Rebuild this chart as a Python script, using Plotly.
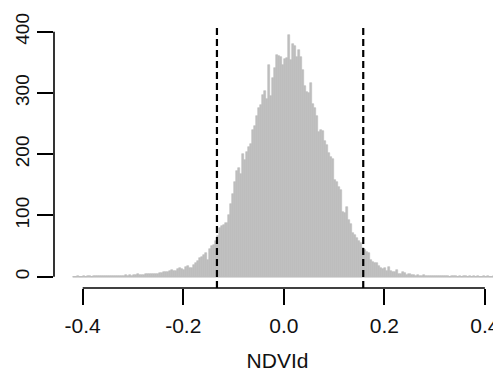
import plotly.graph_objects as go

# Histogram of NDVId: bins of width 0.004 starting at -0.42
bin_start = -0.42
bin_width = 0.004
counts = [
    0, 0, 1, 0, 0, 1, 0, 1, 1, 0, 1, 1, 1, 1, 1, 2, 1, 1, 2, 1, 2, 2, 2, 2,
    2, 2, 3, 2, 3, 2, 3, 3, 4, 3,
    3, 3, 4, 5, 4, 4, 4, 5, 5, 6, 6, 7, 7, 8, 9, 11, 10, 9, 13, 14, 12, 11,
    16, 17, 15, 14, 19, 22, 26, 30, 33, 36, 38, 28, 45, 50, 52, 58, 66, 80,
    83, 85, 88, 100, 118, 135, 155, 172, 177, 168, 200, 190, 203, 212, 216,
    240, 246, 262, 275, 280, 296, 303, 290, 346, 295, 325, 340, 362, 360,
    359, 345, 355, 357, 395, 354, 380, 376, 358, 370, 359, 338, 312, 302,
    300, 316, 282, 275, 262, 236, 240, 238, 222, 215, 202, 196, 192, 158,
    155, 147, 141, 106, 104, 114, 92, 86, 72, 68, 63, 58, 55, 47, 44, 40,
    38, 28, 24, 23, 22, 17, 15, 13, 14, 10, 16, 9, 8, 8, 11, 5, 4, 7, 6, 3,
    4, 3, 3, 2, 3, 2, 2, 3, 2, 1, 2, 2, 1, 2, 1, 1, 1, 2, 1, 1, 0, 1, 1, 1,
    0, 1, 0, 1, 1, 0, 1, 0, 1, 0, 1, 0, 0, 1, 0, 1, 0, 0, 1,
]
bin_centers = [bin_start + bin_width * (i + 0.5) for i in range(len(counts))]

x_ticks = [-0.4, -0.2, 0.0, 0.2, 0.4]
x_tick_labels = ["-0.4", "-0.2", "0.0", "0.2", "0.4"]
y_ticks = [0, 100, 200, 300, 400]
y_tick_labels = ["0", "100", "200", "300", "400"]
thresholds = [-0.133, 0.158]
x_title = "NDVId"

fig = go.Figure()
fig.add_trace(go.Bar(
    x=bin_centers, y=counts, width=bin_width,
    marker=dict(color="#BEBEBE", line=dict(width=0.6, color="#BEBEBE")),
    hoverinfo="skip",
))

shapes = []
# baseline of zero-height bins
shapes.append(dict(type="line", xref="x", yref="y", x0=bin_start,
                   x1=bin_start + bin_width * len(counts), y0=0, y1=0,
                   line=dict(color="#BEBEBE", width=1.5)))
for t in thresholds:
    shapes.append(dict(type="line", xref="x", yref="paper", x0=t, x1=t,
                       y0=0, y1=1, line=dict(color="black", width=2.2, dash="7px,4px")))
# axis lines spanning only the tick range (R style)
shapes.append(dict(type="line", xref="x", yref="paper", x0=x_ticks[0], x1=x_ticks[-1],
                   y0=0, y1=0, line=dict(color="black", width=1.6)))
shapes.append(dict(type="line", xref="paper", yref="y", x0=0, x1=0,
                   y0=y_ticks[0], y1=y_ticks[-1], line=dict(color="black", width=1.6)))

font_family = "Arial, Liberation Sans, sans-serif"
# the page body adds an 8px offset, so the figure is 8px smaller each way
fig.update_layout(
    width=493, height=364,
    margin=dict(l=46, r=0, t=17, b=84, autoexpand=False),
    plot_bgcolor="white", paper_bgcolor="white",
    showlegend=False, bargap=0,
    shapes=shapes,
    font=dict(family=font_family, color="black"),
    xaxis=dict(range=[-0.4571, 0.432], tickvals=x_ticks, ticktext=x_tick_labels,
               ticks="outside", ticklen=16, tickwidth=1.6, tickcolor="black",
               showline=False, showgrid=False, zeroline=False, automargin=False,
               ticklabelstandoff=3,
               tickfont=dict(size=21, family=font_family, color="#111"),
               title=dict(text=x_title, font=dict(size=21, family=font_family, color="#111"),
                          standoff=18)),
    yaxis=dict(range=[-18.4, 411], tickvals=y_ticks, ticktext=y_tick_labels,
               ticks="outside", ticklen=16, tickwidth=1.6, tickcolor="black",
               tickangle=-90, automargin=False,
               showline=False, showgrid=False, zeroline=False,
               tickfont=dict(size=19, family=font_family, color="#111")),
)

fig.write_html("out.html")
